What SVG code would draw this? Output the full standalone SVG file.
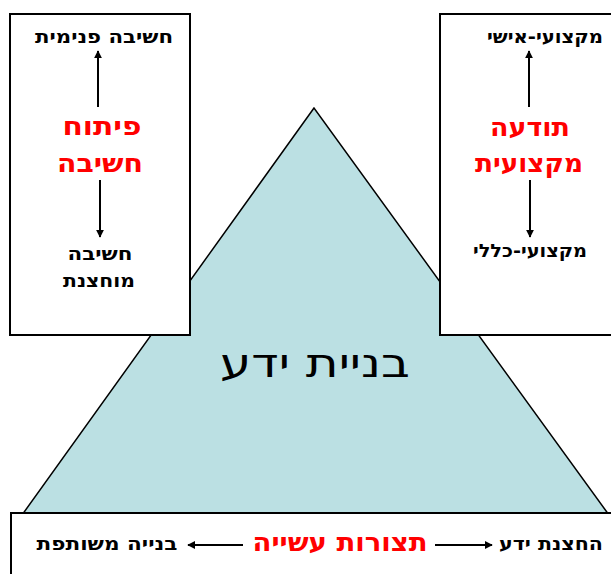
<svg xmlns="http://www.w3.org/2000/svg" width="611" height="574" viewBox="0 0 611 574">
<style>
.box{fill:#ffffff;stroke:#000000;stroke-width:2}
.lbl{font-family:"DejaVu Sans","Liberation Sans",sans-serif;font-weight:bold;font-size:18px;fill:#000000;text-anchor:middle}
.red{font-family:"DejaVu Sans","Liberation Sans",sans-serif;font-weight:bold;font-size:25px;fill:#ff0000;text-anchor:middle}
.big{font-family:"DejaVu Sans","Liberation Sans",sans-serif;font-size:41px;fill:#000000;text-anchor:middle}
.arr{stroke:#000000;stroke-width:2;fill:none;marker-end:url(#ah)}
</style>
<defs>
<marker id="ah" viewBox="0 0 10 10" refX="9" refY="5" markerWidth="4" markerHeight="4" orient="auto" markerUnits="strokeWidth">
<path d="M0,0 L10,5 L0,10 z" fill="#000000"/>
</marker>
</defs>
<rect width="611" height="574" fill="#ffffff"/>
<g id="pyramid">
<polygon points="314,108 22,515 609,515" fill="#bbe0e3" stroke="#000000" stroke-width="1.5"/>
<text class="big" x="315" y="377" textLength="190" lengthAdjust="spacingAndGlyphs">בניית ידע</text>
</g>
<g id="left-box">
<rect class="box" x="10" y="14" width="180" height="321"/>
<text class="lbl" x="104" y="43" textLength="138" lengthAdjust="spacingAndGlyphs">חשיבה פנימית</text>
<text class="red" x="102" y="135" textLength="79" lengthAdjust="spacingAndGlyphs">פיתוח</text>
<text class="red" x="100" y="172" textLength="86" lengthAdjust="spacingAndGlyphs">חשיבה</text>
<text class="lbl" x="100" y="260" textLength="65" lengthAdjust="spacingAndGlyphs">חשיבה</text>
<text class="lbl" x="99" y="287" textLength="72" lengthAdjust="spacingAndGlyphs">מוחצנת</text>
</g>
<g id="right-box">
<rect class="box" x="440" y="14" width="180" height="321"/>
<text class="lbl" x="545" y="43" textLength="116" lengthAdjust="spacingAndGlyphs">מקצועי-אישי</text>
<text class="red" x="530" y="136" textLength="80" lengthAdjust="spacingAndGlyphs">תודעה</text>
<text class="red" x="529" y="172" textLength="108" lengthAdjust="spacingAndGlyphs">מקצועית</text>
<text class="lbl" x="530" y="257" textLength="114" lengthAdjust="spacingAndGlyphs">מקצועי-כללי</text>
</g>
<g id="bottom-box">
<rect class="box" x="11" y="513" width="610" height="80"/>
<text class="lbl" x="107" y="550" textLength="141" lengthAdjust="spacingAndGlyphs">בנייה משותפת</text>
<text class="red" x="340" y="551" textLength="175" lengthAdjust="spacingAndGlyphs">תצורות עשייה</text>
<text class="lbl" x="551" y="550" textLength="104" lengthAdjust="spacingAndGlyphs">החצנת ידע</text>
</g>
<g id="connectors">
<line class="arr" x1="98" y1="107" x2="98" y2="51"/>
<line class="arr" x1="100" y1="180" x2="100" y2="237"/>
<line class="arr" x1="529" y1="107" x2="529" y2="51"/>
<line class="arr" x1="530" y1="180" x2="530" y2="237"/>
<line class="arr" x1="243" y1="545" x2="188" y2="545"/>
<line class="arr" x1="435" y1="545" x2="492" y2="545"/>
</g>
</svg>
